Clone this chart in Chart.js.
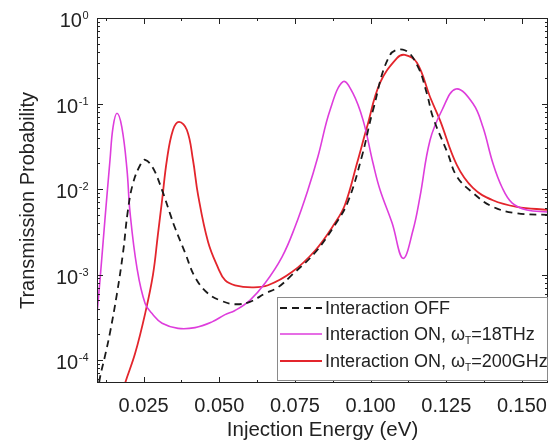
<!DOCTYPE html>
<html>
<head>
<meta charset="utf-8">
<script src="https://cdn.jsdelivr.net/npm/chart.js@4.4.1/dist/chart.umd.min.js"></script>
<style>
  html, body { margin: 0; padding: 0; background: #fff; }
</style>
</head>
<body>
<canvas id="chart" width="553" height="445"></canvas>
<script>
// Values (energy in eV, transmission probability).
const offEnergy = [0.0098, 0.0106, 0.0122, 0.0139, 0.0162, 0.0182, 0.0198, 0.0215, 0.0240, 0.0255, 0.0281,
  0.0311, 0.0337, 0.0354, 0.0387, 0.0420, 0.0463, 0.0509, 0.0552, 0.0601, 0.0651, 0.0694, 0.0740, 0.0816,
  0.0882, 0.0925, 0.0971, 0.1008, 0.1064, 0.1113, 0.1156, 0.1186, 0.1206, 0.1255, 0.1285, 0.1338, 0.1404,
  0.1483, 0.1586];
const offProb = [4.0e-5, 6.3e-5, 1.1e-4, 2.1e-4, 6.0e-4, 1.8e-3, 5.6e-3, 1.17e-2, 1.95e-2, 2.2e-2, 1.76e-2,
  9.7e-3, 5.2e-3, 3.5e-3, 1.8e-3, 9.3e-4, 6.0e-4, 4.9e-4, 4.5e-4, 4.8e-4, 6.0e-4, 7.1e-4, 9.9e-4, 1.8e-3,
  3.8e-3, 7.1e-3, 2.4e-2, 8.4e-2, 0.37, 0.42, 0.27, 0.13, 6.9e-2, 2.6e-2, 1.4e-2, 9.0e-3, 6.2e-3,
  5.2e-3, 5.0e-3];

const thzEnergy = [0.0096, 0.0106, 0.0122, 0.0139, 0.0149, 0.0162, 0.0178, 0.0195, 0.0205, 0.0228, 0.0255,
  0.0281, 0.0311, 0.0364, 0.0420, 0.0476, 0.0519, 0.0552, 0.0601, 0.0651, 0.0707, 0.0750, 0.0793, 0.0826,
  0.0866, 0.0909, 0.0941, 0.0975, 0.1008, 0.1031, 0.1071, 0.1107, 0.1140, 0.1163, 0.1196, 0.1236, 0.1282,
  0.1338, 0.1371, 0.1404, 0.1434, 0.1467, 0.1516, 0.1586];
const thzProb = [3.5e-4, 8.7e-4, 4.3e-3, 2.2e-2, 5.3e-2, 7.7e-2, 5.3e-2, 1.7e-2, 5.4e-3, 1.2e-3, 4.6e-4,
  3.4e-4, 2.7e-4, 2.35e-4, 2.4e-4, 2.8e-4, 3.4e-4, 3.8e-4, 5.0e-4, 7.9e-4, 1.6e-3, 3.6e-3, 9.8e-3, 2.4e-2,
  8.4e-2, 0.18, 0.133, 6.4e-2, 2.0e-2, 9.8e-3, 4.0e-3, 1.55e-3, 3.3e-3, 8.1e-3, 3.7e-2, 8.4e-2, 0.148,
  0.10, 5.3e-2, 2.0e-2, 1.05e-2, 6.9e-3, 5.7e-3, 5.4e-3];

const ghzEnergy = [0.0180, 0.0189, 0.0222, 0.0255, 0.0281, 0.0297, 0.0311, 0.0327, 0.0347, 0.0367, 0.0393,
  0.0413, 0.0430, 0.0463, 0.0496, 0.0519, 0.0552, 0.0608, 0.0661, 0.0740, 0.0816, 0.0882, 0.0915,
  0.0955, 0.0988, 0.1031, 0.1087, 0.1113, 0.1153, 0.1196, 0.1229, 0.1285, 0.1338, 0.1404, 0.1483, 0.1586];
const ghzProb = [4.0e-5, 5.4e-5, 1.2e-4, 3.5e-4, 1.0e-3, 2.9e-3, 7.4e-3, 2.2e-2, 4.9e-2, 6.1e-2, 4.9e-2,
  2.2e-2, 8.5e-3, 2.4e-3, 1.2e-3, 8.6e-4, 7.5e-4, 7.1e-4, 7.5e-4, 1.07e-3, 1.9e-3, 4.0e-3, 6.5e-3,
  2.0e-2, 5.3e-2, 0.174, 0.34, 0.37, 0.30, 0.12, 6.4e-2, 1.9e-2, 1.03e-2, 7.4e-3, 6.2e-3, 5.7e-3];

const xTicks = [0.025, 0.05, 0.075, 0.1, 0.125, 0.15];
const xMinorTicks = [0.0125, 0.0375, 0.0625, 0.0875, 0.1125, 0.1375];
const yDecades = [1e-4, 1e-3, 1e-2, 1e-1, 1];

// legend text split as [before subscript, subscript, after subscript]
const legendLabels = [
  ['Interaction OFF', '', ''],
  ['Interaction ON, \u03c9', 'T', '=18THz'],
  ['Interaction ON, \u03c9', 'T', '=200GHz']
];

const FONT = '"Liberation Sans", Arial, sans-serif';
const colors = { off: '#1a1a1a', thz: '#de3ddc', ghz: '#e3252c' };

const toPoints = (xs, ys) => xs.map((x, i) => ({ x, y: ys[i] }));

// frame, inward ticks on all four sides, y labels with superscripts, boxed legend
const framePlugin = {
  id: 'frameTicks',
  afterDraw(chart) {
    const { ctx, chartArea: a, scales: { x, y } } = chart;
    ctx.save();
    ctx.strokeStyle = '#222';
    ctx.lineWidth = 1;
    const seg = (x1, y1, x2, y2) => { ctx.beginPath(); ctx.moveTo(x1, y1); ctx.lineTo(x2, y2); ctx.stroke(); };

    ctx.strokeRect(a.left + 0.5, a.top + 0.5, a.right - a.left - 1, a.bottom - a.top - 1);

    const xTick = (v, len) => {
      const px = Math.round(x.getPixelForValue(v)) + 0.5;
      seg(px, a.bottom, px, a.bottom - len);
      seg(px, a.top, px, a.top + len);
    };
    xTicks.forEach(v => xTick(v, 6));
    xMinorTicks.forEach(v => xTick(v, 3));

    const yTick = (v, len) => {
      const py = Math.round(y.getPixelForValue(v)) + 0.5;
      seg(a.left, py, a.left + len, py);
      seg(a.right, py, a.right - len, py);
    };
    yDecades.forEach(v => yTick(v, 6));
    for (let d = 1e-5; d < 1; d *= 10) {
      for (let k = 2; k <= 9; k++) {
        const v = k * d;
        if (v > y.min && v < y.max) yTick(v, 3);
      }
    }

    // y tick labels: "10" with a raised exponent
    ctx.fillStyle = '#222';
    ctx.textBaseline = 'alphabetic';
    ctx.textAlign = 'left';
    yDecades.forEach(v => {
      const py = y.getPixelForValue(v);
      const exp = String(Math.round(Math.log10(v)));
      ctx.font = '11px ' + FONT;
      const we = ctx.measureText(exp).width;
      ctx.font = '20px ' + FONT;
      const wb = ctx.measureText('10').width;
      const xs = a.left - 9 - we - wb;
      ctx.fillText('10', xs, py + 9);
      ctx.font = '11px ' + FONT;
      ctx.fillText(exp, xs + wb + 0.5, py + 1);
    });

    // legend box
    const box = { left: 277, top: 297, right: a.right, bottom: 381 };
    ctx.fillStyle = '#fff';
    ctx.fillRect(box.left, box.top, box.right - box.left, box.bottom - box.top);
    ctx.strokeStyle = '#8a8a8a';
    ctx.strokeRect(box.left + 0.5, box.top + 0.5, box.right - box.left - 1, box.bottom - box.top - 1);

    const rows = [308, 334, 361];
    chart.data.datasets.forEach((ds, i) => {
      const ly = rows[i];
      ctx.strokeStyle = ds.borderColor;
      ctx.lineWidth = ds.borderWidth;
      ctx.setLineDash(ds.borderDash || []);
      seg(280, ly, 322, ly);
      ctx.setLineDash([]);
      const [pre, sub, post] = legendLabels[i];
      ctx.fillStyle = '#222';
      ctx.textBaseline = 'middle';
      ctx.font = '18px ' + FONT;
      let tx = 325;
      ctx.fillText(pre, tx, ly + 1);
      tx += ctx.measureText(pre).width;
      if (sub) {
        ctx.font = '10px ' + FONT;
        ctx.fillText(sub, tx, ly + 7);
        tx += ctx.measureText(sub).width;
        ctx.font = '18px ' + FONT;
        ctx.fillText(post, tx, ly + 1);
      }
    });
    ctx.restore();
  }
};

new Chart(document.getElementById('chart'), {
  type: 'line',
  data: {
    datasets: [
      { label: 'Interaction OFF', data: toPoints(offEnergy, offProb), borderColor: colors.off,
        borderWidth: 1.8, borderDash: [7, 5] },
      { label: 'Interaction ON, 18THz', data: toPoints(thzEnergy, thzProb), borderColor: colors.thz,
        borderWidth: 1.6 },
      { label: 'Interaction ON, 200GHz', data: toPoints(ghzEnergy, ghzProb), borderColor: colors.ghz,
        borderWidth: 1.8 }
    ]
  },
  options: {
    responsive: false,
    animation: false,
    devicePixelRatio: 1,
    layout: { padding: { top: 18, right: 5, left: 0, bottom: 0 } },
    elements: {
      point: { radius: 0 },
      line: { tension: 0.4, fill: false }
    },
    plugins: { legend: { display: false }, tooltip: { enabled: false } },
    scales: {
      x: {
        type: 'linear',
        min: 0.0096,
        max: 0.1586,
        afterFit: s => { s.height = 62; },
        afterBuildTicks: s => { s.ticks = xTicks.map(v => ({ value: v })); },
        grid: { display: false },
        border: { display: false },
        ticks: {
          color: '#222', padding: 3, maxRotation: 0, autoSkip: false,
          font: { family: FONT, size: 20 },
          callback: v => v.toFixed(3)
        },
        title: {
          display: true, text: 'Injection Energy (eV)', color: '#222',
          font: { family: FONT, size: 20.5 }, padding: { top: 0, bottom: 2 }
        }
      },
      y: {
        type: 'logarithmic',
        min: 5.4e-5,
        max: 1,
        afterFit: s => { s.width = 97; },
        afterBuildTicks: s => { s.ticks = yDecades.map(v => ({ value: v })); },
        grid: { display: false },
        border: { display: false },
        ticks: { display: false },
        title: {
          display: true, text: 'Transmission Probability', color: '#222',
          font: { family: FONT, size: 20 }, padding: { top: 16, bottom: 0 }
        }
      }
    }
  },
  plugins: [framePlugin]
});
</script>
</body>
</html>
